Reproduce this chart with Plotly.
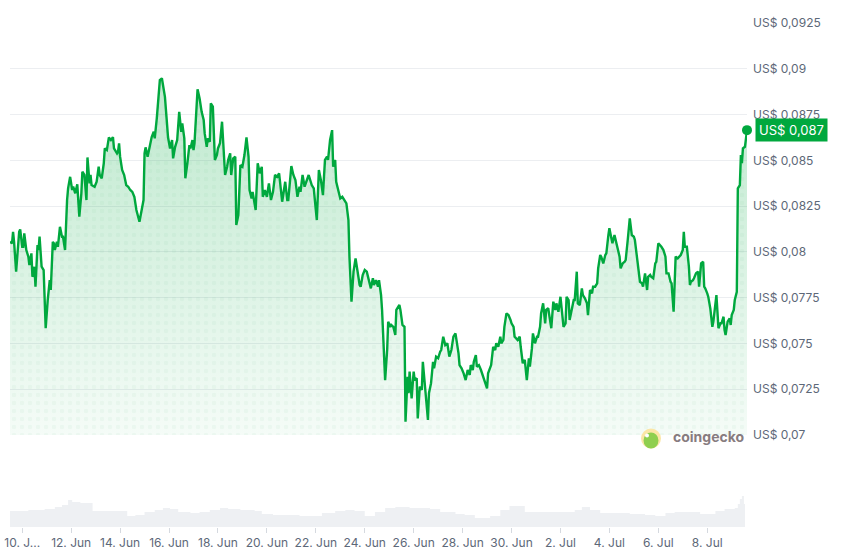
import pandas as pd
import plotly.graph_objects as go

# price series, hours counted from 9 Jun 12:00
start = "2024-06-09 12:00"
price_hours = [
    0, 2, 3, 4, 6, 7, 9, 10, 12, 13,
    14, 16, 18, 19, 21, 22, 23, 24, 25, 27,
    28, 29, 31, 33, 35, 37, 39, 40, 42, 43,
    44, 46, 47, 49, 51, 52, 54, 56, 57, 59,
    61, 62, 64, 66, 68, 70, 71, 73, 75, 76,
    78, 79, 80, 83, 85, 87, 88, 90, 92, 93,
    95, 97, 99, 101, 102, 105, 106, 107, 108, 110,
    112, 114, 116, 118, 120, 122, 124, 127, 129, 131,
    132, 133, 135, 137, 139, 141, 142, 144, 145, 147,
    149, 150, 152, 154, 155, 157, 159,
    160, 162, 164, 166, 168, 169, 171, 172, 174, 176,
    177, 179, 180, 181, 184, 186, 188, 190, 191, 193,
    194, 196, 197, 199, 201, 203, 204, 206, 208, 209,
    211, 213, 214, 216, 217, 219, 221, 222, 224, 226,
    228, 230, 232, 234, 235, 237, 238, 241, 243, 245,
    247, 248, 250, 252, 254, 256, 258, 260, 262, 264,
    265, 267, 270, 272, 273, 276, 278, 280, 282, 284,
    285, 287, 289, 291, 293, 296, 298, 300, 301, 303,
    305, 307, 309, 311, 312, 314, 316, 317, 319, 320,
    324, 326, 330, 332, 333, 335, 336, 337, 339, 341,
    343, 344, 346, 348, 350, 352, 354, 356, 357, 359,
    361, 362, 364, 365, 366, 368, 370, 371, 373, 374,
    376, 378, 379, 382, 383, 385, 387, 388, 390, 391,
    392, 394, 396, 397, 399, 400, 402, 404, 405, 407,
    409, 410, 411, 413, 415, 416, 418, 420, 422, 423,
    425, 427, 429, 431, 433, 435, 437, 440, 441, 443,
    445, 447, 449, 451, 452, 454, 455, 457, 458, 460,
    462, 464, 465, 468, 469, 471, 472, 474, 476, 477,
    479, 481, 482, 484, 485, 487, 489, 491, 492, 494,
    495, 498, 500, 501,
    503, 505, 507, 509, 510, 512, 513, 515, 517, 518,
    520, 521, 523, 525, 526, 528, 530, 531, 533, 535,
    536, 538, 540, 541, 543, 545, 546, 548, 549, 551,
    553, 554, 556, 557, 559, 561, 562, 564, 566, 567,
    569, 571, 572, 574, 576, 577, 579, 580, 582, 584,
    585, 587, 588, 589, 591, 593, 594, 596, 598, 599,
    601, 603, 604, 606, 607, 608, 610, 612, 613, 615,
    616, 618, 620, 621, 623, 625, 626, 628, 629, 631,
    633, 634, 636, 638, 639, 641, 643, 644, 646, 648,
    649, 651, 652, 653, 655, 657, 658, 660, 661, 662,
    664, 666, 667, 668, 670, 671, 673, 675, 676, 678,
    680, 681, 682, 684, 685, 687, 689, 690, 692, 693,
    695, 697, 698, 700, 701, 702, 704, 706, 707, 708,
    710, 711, 713, 714, 716, 717, 718, 719, 721, 723,
]
price = [
    .08055, .08047, .08110, .08055, .07892, .07956, .08110, .08123, .08028, .08028,
    .08101, .08010, .07974, .07928, .07992, .07864, .07883, .07919, .07810, .08037,
    .08010, .08083, .07919, .07901, .07583, .07737, .07846, .07792, .08055, .08047,
    .08010, .08055, .08028, .08137, .08083, .08083, .08010, .08283, .08347, .08410,
    .08338, .08356, .08320, .08369, .08192, .08320, .08438, .08420, .08283, .08516,
    .08374, .08420, .08365, .08356, .08383, .08465, .08420, .08402, .08484, .08565,
    .08556, .08625, .08611, .08627, .08565, .08538, .08547, .08593, .08520, .08447,
    .08420, .08365, .08356, .08338, .08328, .08301, .08229, .08165, .08219, .08283,
    .08538, .08571, .08520, .08583, .08627, .08656, .08620, .08729, .08811, .08938,
    .08948, .08920, .08847, .08702, .08627, .08565, .08611,
    .08511, .08574, .08611, .08765, .08656, .08702, .08620, .08402, .08484, .08583,
    .08565, .08611, .08556, .08593, .08888, .08838, .08765, .08720, .08647, .08574,
    .08620, .08601, .08811, .08793, .08502, .08529, .08565, .08593, .08711, .08611,
    .08420, .08465, .08502, .08538, .08420, .08511, .08520, .08147, .08201, .08474,
    .08465, .08529, .08625, .08520, .08338, .08292, .08328, .08229, .08484, .08429,
    .08465, .08301, .08338, .08301, .08374, .08283, .08328, .08420, .08410, .08429,
    .08365, .08274, .08383, .08283, .08283, .08469, .08420, .08392, .08301, .08356,
    .08328, .08420, .08356, .08392, .08420, .08365, .08347, .08229, .08174, .08447,
    .08392, .08310, .08502, .08520, .08502, .08611, .08665, .08465, .08502, .08383,
    .08292, .08301, .08265, .08174, .07974, .07728, .07792, .07892, .07965, .07892,
    .07819, .07810, .07874, .07901, .07892, .07846, .07801, .07856, .07819, .07846,
    .07810, .07846, .07764, .07683, .07519, .07300, .07464, .07619, .07591, .07601,
    .07591, .07546, .07683, .07710, .07683, .07601, .07591, .07073, .07318, .07228,
    .07346, .07200, .07346, .07300, .07310, .07091, .07264, .07246, .07400, .07282,
    .07182, .07082, .07228, .07282, .07400, .07364, .07428, .07419, .07455, .07464,
    .07537, .07491, .07501, .07428, .07464, .07537, .07555, .07446, .07382, .07364,
    .07337, .07300, .07355, .07328, .07382, .07355, .07400, .07437, .07373, .07382,
    .07355, .07318, .07310, .07255, .07337, .07373, .07382, .07482, .07464, .07501,
    .07482, .07537, .07501, .07519, .07591, .07664, .07655, .07628, .07610, .07591,
    .07537, .07519, .07537, .07482,
    .07392, .07410, .07300, .07419, .07373, .07473, .07555, .07501, .07537, .07537,
    .07591, .07664, .07719, .07610, .07683, .07692, .07628, .07583, .07728, .07683,
    .07719, .07673, .07755, .07683, .07591, .07610, .07755, .07737, .07628, .07683,
    .07737, .07737, .07892, .07719, .07710, .07801, .07764, .07746, .07719, .07655,
    .07792, .07774, .07810, .07810, .07828, .07910, .07983, .07974, .07937, .07983,
    .07992, .08092, .08129, .08101, .08047, .08092, .08065, .08028, .07974, .07910,
    .07937, .07946, .07956, .08065, .08110, .08183, .08092, .08083, .08065, .07974,
    .07901, .07837, .07828, .07810, .07883, .07792, .07864, .07874, .07864, .07856,
    .07937, .07946, .08047, .08037, .08028, .08010, .07974, .07883, .07883, .07837,
    .07828, .07673, .07792, .07974, .07965, .07974, .07983, .08010, .08110, .08028,
    .08028, .07919, .07819, .07837, .07846, .07856, .07883, .07892, .07810, .07937,
    .07946, .07810, .07801, .07774, .07755, .07692, .07591, .07619, .07719, .07764,
    .07583, .07610, .07610, .07646, .07573, .07546, .07619, .07637, .07601, .07655,
    .07683, .07737, .07782, .08347, .08365, .08529, .08484, .08565, .08574, .08665,
]
assert len(price_hours) == len(price)

# trading volume (relative units)
vol_hours = [0, 10, 18, 25, 34, 44, 51, 57, 61, 69, 78, 81, 88, 103, 115, 123, 132, 142,
             150, 157, 165, 177, 186, 196, 206, 214, 226, 240, 247, 258, 270, 284, 294,
             306, 319, 329, 338, 348, 358, 368, 378, 392, 402, 412, 422, 437, 446, 456,
             463, 471, 481, 490, 498, 505, 520, 535, 544, 554, 561, 569, 579, 594, 608,
             623, 633, 643, 652, 667, 677, 692, 701, 711, 714, 716, 718, 720, 721]
volume = [16, 16, 17, 17, 18, 20, 22, 27, 25, 24, 24, 16, 16, 16, 11, 12, 15, 17,
          19, 18, 15, 14, 15, 17, 19, 18, 17, 16, 13, 12, 12, 11, 11,
          14, 16, 17, 16, 11, 15, 19, 20, 19, 19, 18, 15, 13, 12, 9,
          9, 11, 17, 21, 21, 15, 15, 15, 15, 17, 20, 17, 14, 14, 13,
          12, 11, 14, 15, 15, 13, 16, 18, 19, 23, 28, 31, 23, 23]
assert len(vol_hours) == len(volume)

x_tick_dates = ["2024-06-10", "2024-06-12", "2024-06-14", "2024-06-16", "2024-06-18",
                "2024-06-20", "2024-06-22", "2024-06-24", "2024-06-26", "2024-06-28",
                "2024-06-30", "2024-07-02", "2024-07-04", "2024-07-06", "2024-07-08"]
x_tick_labels = ["10. J...", "12. Jun", "14. Jun", "16. Jun", "18. Jun", "20. Jun",
                 "22. Jun", "24. Jun", "26. Jun", "28. Jun", "30. Jun", "2. Jul",
                 "4. Jul", "6. Jul", "8. Jul"]
y_tick_vals = [0.07, 0.0725, 0.075, 0.0775, 0.08, 0.0825, 0.085, 0.0875, 0.09, 0.0925]
y_tick_labels = ["US$ 0,07", "US$ 0,0725", "US$ 0,075", "US$ 0,0775", "US$ 0,08",
                 "US$ 0,0825", "US$ 0,085", "US$ 0,0875", "US$ 0,09", "US$ 0,0925"]

t0 = pd.Timestamp(start)
px_time = t0 + pd.to_timedelta(price_hours, unit="h")
vol_time = t0 + pd.to_timedelta(vol_hours, unit="h")

GREEN = "#00a83e"
TXT = "#5d6878"

fig = go.Figure()

fig.add_trace(go.Scatter(
    x=vol_time, y=volume, yaxis="y2", mode="lines",
    line=dict(width=0, shape="hv"), fill="tozeroy", fillcolor="#eef0f3",
    hoverinfo="skip", showlegend=False,
))

# gradient area under the price
fig.add_trace(go.Scatter(
    x=px_time, y=price, mode="lines", line=dict(width=0),
    fill="tozeroy",
    fillgradient=dict(type="vertical", start=0.07, stop=0.0895,
                      colorscale=[[0, "rgba(0,168,62,0.04)"], [1, "rgba(0,168,62,0.26)"]]),
    showlegend=False,
))
# faint dot texture
fig.add_trace(go.Scatter(
    x=px_time, y=price, mode="lines", line=dict(width=0),
    fill="tozeroy", fillcolor="rgba(0,0,0,0)",
    fillpattern=dict(shape=".", size=8, solidity=0.25,
                     fgcolor="rgba(0,140,50,0.07)", bgcolor="rgba(0,0,0,0)"),
    showlegend=False,
))
fig.add_trace(go.Scatter(
    x=px_time, y=price, mode="lines",
    line=dict(color=GREEN, width=2.4),
    showlegend=False,
))

fig.add_trace(go.Scatter(
    x=[px_time[-1]], y=[price[-1]], mode="markers", cliponaxis=False,
    marker=dict(color=GREEN, size=10), showlegend=False,
))

last_label = "US$ " + f"{price[-1]:.3f}".replace(".", ",")
fig.add_annotation(
    x=1, xref="paper", xanchor="left", xshift=8,
    y=price[-1], yref="y", yanchor="middle",
    text=last_label, showarrow=False,
    font=dict(color="white", size=13, family="Inter"),
    bgcolor=GREEN, borderpad=3,
)

# coingecko watermark
fig.add_shape(type="circle", xref="paper", yref="paper",
              x0=0.8562, x1=0.8833, y0=0.1558, y1=0.1954,
              fillcolor="#fbe6a6", line=dict(width=0))
fig.add_shape(type="circle", xref="paper", yref="paper",
              x0=0.8596, x1=0.8799, y0=0.1558, y1=0.1875,
              fillcolor="#8fcf4f", line=dict(width=0))
fig.add_shape(type="circle", xref="paper", yref="paper",
              x0=0.8616, x1=0.8670, y0=0.1776, y1=0.1855,
              fillcolor="white", line=dict(width=0))
fig.add_annotation(
    x=0.8969, xref="paper", xanchor="left", y=0.1786, yref="paper", yanchor="middle",
    text="<b>coingecko</b>", showarrow=False,
    font=dict(color="#877c80", size=14, family="Inter"),
)

fig.update_layout(
    width=844, height=556,
    margin=dict(l=10, r=97, t=23, b=29, autoexpand=False),
    paper_bgcolor="white", plot_bgcolor="white",
    font=dict(family="Inter", size=12, color=TXT),
    hovermode=False,
    xaxis=dict(
        anchor="y2", automargin=False,
        range=[px_time[0], px_time[-1]],
        tickvals=pd.to_datetime(x_tick_dates), ticktext=x_tick_labels,
        ticks="outside", ticklen=5, tickcolor="#d5d9df",
        showgrid=False, zeroline=False, showline=False,
        tickfont=dict(size=12, color=TXT),
    ),
    yaxis=dict(
        domain=[0.1825, 1], range=[0.07, 0.0925], automargin=False,
        side="right", tickvals=y_tick_vals, ticktext=y_tick_labels,
        showgrid=True, gridcolor="#eceef1", zeroline=False,
        ticks="", ticklabelstandoff=5, tickfont=dict(size=12, color=TXT),
    ),
    yaxis2=dict(domain=[0, 0.1], range=[0, 50.4], visible=False),
)

fig.write_html("out.html", config={"displayModeBar": False},
               post_script="document.body.style.margin='0';")
